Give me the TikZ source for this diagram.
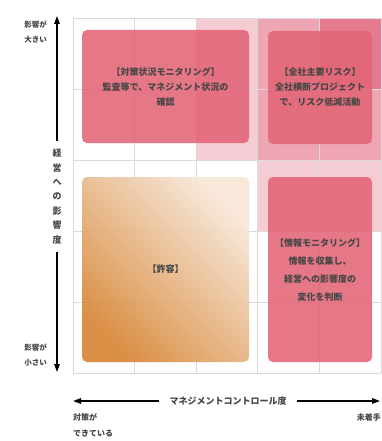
\documentclass[tikz,border=0pt]{standalone}
\usepackage{fontspec}
\setmainfont{Noto Sans CJK JP}
\usetikzlibrary{arrows.meta}
\definecolor{rosy}{RGB}{220,70,100}
\definecolor{boxpink}{RGB}{226,100,118}
\definecolor{orangedark}{RGB}{215,135,55}
\definecolor{orangelight}{RGB}{246,230,215}
\definecolor{gridgray}{RGB}{218,218,218}
\definecolor{txtgray}{RGB}{70,70,70}

\begin{document}
\begin{tikzpicture}[x=1pt, y=-1pt,
    zone/.style={fill=rosy, fill opacity=0.28},
    gridline/.style={draw=gridgray, line width=0.7pt},
    boxbase/.style={rounded corners=5pt, text=txtgray, text opacity=1, align=center,
        font=\fontsize{9}{15}\selectfont\bfseries},
    riskbox/.style={boxbase, fill=boxpink, fill opacity=0.88},
    axisline/.style={line width=1.4pt, -{Triangle[length=8pt,width=5.5pt]}},
    axislabel/.style={text=txtgray, font=\fontsize{9}{14.4}\selectfont\bfseries, inner sep=0pt},
    sidelabel/.style={text=txtgray, align=left, inner sep=0pt, font=\fontsize{7.5}{15}\selectfont\bfseries},
    endlabel/.style={text=txtgray, align=left, inner sep=0pt, font=\fontsize{8}{16}\selectfont\bfseries}]
    \useasboundingbox (0,0) rectangle (381,441);

    % shaded background zones
    \fill[zone] (196.2,18) rectangle (381,160);
    \fill[zone] (257.8,18) rectangle (381,231);
    \fill[zone, fill opacity=0.45] (319.4,18) rectangle (381,89);

    % grid
    \foreach \x in {73,134.6,196.2,257.8,319.4,381}
        \draw[gridline] (\x,18) -- (\x,373);
    \foreach \y in {18,89,160,231,302,373}
        \draw[gridline] (73,\y) -- (381,\y);

    % quadrants
    \node[riskbox, minimum width=167pt, minimum height=113pt] (monitor) at (165.5,86.5)
        {【対策状況モニタリング】\\監査等で、マネジメント状況の\\確認};
    \node[riskbox, minimum width=104pt, minimum height=113pt] (keyrisk) at (320,87.5)
        {【全社主要リスク】\\全社横断プロジェクト\\で、リスク低減活動};
    \node[boxbase, shading=axis, bottom color=orangedark, top color=orangelight,
        shading angle=-45, fill opacity=0.92, minimum width=167pt, minimum height=185pt]
        (accept) at (165.5,269.5) {【許容】};
    \node[riskbox, font=\fontsize{9}{18}\selectfont\bfseries, minimum width=104pt,
        minimum height=185pt] (infomon) at (320,269.5)
        {【情報モニタリング】\\情報を収集し、\\経営への影響度の\\変化を判断};

    % vertical axis
    \coordinate (ytop) at (57,16);
    \coordinate (ybot) at (57,372);
    \node[axislabel, align=center, inner ysep=8pt] (impact) at (57,196.5)
        {経\\営\\へ\\の\\影\\響\\度};
    \draw[axisline] (impact) -- (ytop);
    \draw[axisline] (impact) -- (ybot);
    \node[sidelabel, anchor=east] (high) at (47,32) {影響が\\大きい};
    \node[sidelabel, anchor=east] (low) at (47,355) {影響が\\小さい};

    % horizontal axis
    \coordinate (xleft) at (73,401);
    \coordinate (xright) at (380,401);
    \node[axislabel, inner xsep=10pt] (control) at (228,401) {マネジメントコントロール度};
    \draw[axisline] (control) -- (xleft);
    \draw[axisline] (control) -- (xright);
    \node[endlabel, anchor=north west] (done) at (73,413) {対策が\\できている};
    \node[endlabel, anchor=north east] (todo) at (381,413) {未着手};
\end{tikzpicture}
\end{document}
